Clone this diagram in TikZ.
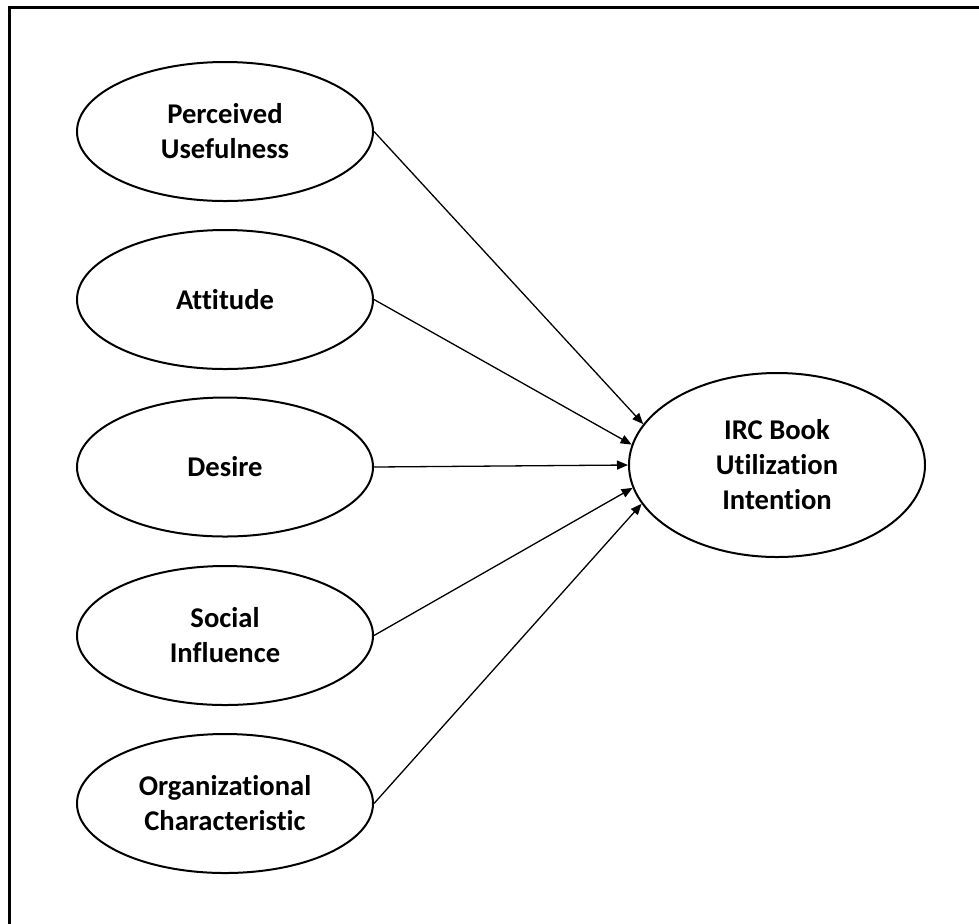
\documentclass[tikz,border=0pt]{standalone}
\usepackage{fontspec}
\setmainfont[Ligatures={NoCommon}]{Carlito}
\usetikzlibrary{shapes.geometric,arrows.meta}
\tikzset{
  construct/.style={ellipse, draw=black, line width=1pt, inner sep=0pt,
    minimum width=148pt, minimum height=69.5pt, align=center,
    font=\fontsize{14.3pt}{17.5pt}\selectfont\bfseries},
  target/.style={construct, minimum height=92pt},
  path/.style={draw=black, line width=0.65pt, -{Triangle[length=5.5pt,width=4.5pt]}},
  frame/.style={draw=black, line width=1.5pt}
}
\begin{document}
\begin{tikzpicture}[x=0.5pt,y=-0.5pt]
\useasboundingbox (0,0) rectangle (979,923);
\coordinate (fb) at (9.5,925);
\coordinate (fc) at (9.5,7.5);
\coordinate (fr) at (981,7.5);
\draw[frame] (fb) -- (fc) -- (fr);
\node[construct] (pu) at (225,131.5) {Perceived\\Usefulness};
\node[construct] (at) at (225,299.5) {Attitude};
\node[construct] (de) at (225,467) {Desire};
\node[construct] (si) at (225,635.5) {Social\\Influence};
\node[construct] (oc) at (225,803.5) {Organizational\\Characteristic};
\node[target] (irc) at (777,465) {IRC Book\\Utilization\\Intention};
\draw[path] (pu.east) -- (irc.163.5);
\draw[path] (at.east) -- (irc.172);
\draw[path] (de.east) -- (irc.180);
\draw[path] (si.east) -- (irc.189);
\draw[path] (oc.east) -- (irc.196);
\end{tikzpicture}
\end{document}
